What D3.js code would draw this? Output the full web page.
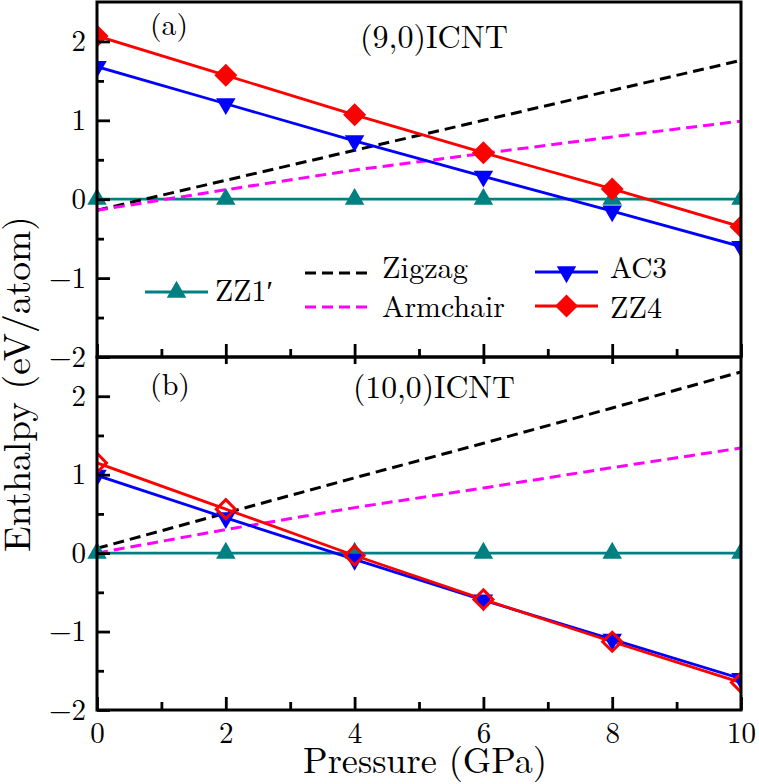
<!DOCTYPE html>
<html>
<head>
<meta charset="utf-8">
<script src="https://cdn.jsdelivr.net/npm/d3@7"></script>
<style>
  html, body { margin: 0; padding: 0; background: #fff; }
  svg { display: block; }
</style>
</head>
<body>
<div id="chart"></div>
<script>
// ---------------- data ----------------
const pressure = [0, 2, 4, 6, 8, 10];
const xTicks = [0, 2, 4, 6, 8, 10];
const xMinorTicks = [1, 3, 5, 7, 9];
const yTicks = [-2, -1, 0, 1, 2];
const yMinorTicks = [-1.5, -0.5, 0.5, 1.5];

// panel (a): (9,0)ICNT
const zz1A      = [0, 0, 0, 0, 0, 0];
const zigzagA   = [-0.14, 0.24, 0.62, 1.00, 1.38, 1.76];
const armchairA = [-0.14, 0.12, 0.37, 0.58, 0.79, 0.99];
const ac3A      = [1.68, 1.21, 0.74, 0.29, -0.15, -0.60];
const zz4A      = [2.07, 1.57, 1.07, 0.59, 0.13, -0.35];

// panel (b): (10,0)ICNT
const zz1B      = [0, 0, 0, 0, 0, 0];
const zigzagB   = [0.06, 0.51, 0.96, 1.40, 1.85, 2.31];
const armchairB = [0.00, 0.30, 0.58, 0.83, 1.09, 1.34];
const ac3B      = [0.99, 0.45, -0.08, -0.60, -1.10, -1.60];
const zz4B      = [1.15, 0.56, -0.03, -0.59, -1.13, -1.65];

const seriesNames = ["ZZ1\u2032", "Zigzag", "Armchair", "AC3", "ZZ4"];
const panelLabels = ["(a)", "(b)"];
const panelTitles = ["(9,0)ICNT", "(10,0)ICNT"];
const xTitle = "Pressure (GPa)";
const yTitle = "Enthalpy (eV/atom)";

// ---------------- layout ----------------
const W = 759, H = 784;
const left = 97, right = 741;
const FONT = "'Latin Modern Roman', 'Liberation Serif', serif";

const svg = d3.select("#chart").append("svg")
  .attr("width", W).attr("height", H);

// font size that makes a text span a given width
function fitSize(str, width) {
  const t = svg.append("text").style("font-family", FONT).style("font-size", "100px").text(str);
  const w = t.node().getComputedTextLength();
  t.remove();
  return 100 * width / w;
}
function styleText(sel, size) {
  sel.style("font-family", FONT).style("font-size", size + "px").style("font-weight", "normal").attr("fill", "#000");
  return sel;
}

const panels = [
  { top: 2, bottom: 357, label: panelLabels[0], title: panelTitles[0],
    data: [zz1A, zigzagA, armchairA, ac3A, zz4A], open: false,
    labelPos: [150, 35, 38], titlePos: [360, 48, 148] },
  { top: 357, bottom: 710, label: panelLabels[1], title: panelTitles[1],
    data: [zz1B, zigzagB, armchairB, ac3B, zz4B], open: true,
    labelPos: [150, 395, 40], titlePos: [353, 398, 162] }
];

const colors = ["#008080", "#000000", "#ff00ff", "#0000ff", "#ff0000"];
const dashes = [null, "11,6", "11,6", null, null];

const x = d3.scaleLinear().domain([0, 10]).range([left, right]);

function markerPath(kind, open) {
  if (kind === "up" || kind === "down") return d3.symbol(d3.symbolTriangle, 165)();
  const r = open ? 9.5 : 11.5;
  return `M0,${-r}L${r},0L0,${r}L${-r},0Z`;
}

panels.forEach((p, pi) => {
  const y = d3.scaleLinear().domain([-2, 2.5]).range([p.bottom, p.top]);
  const g = svg.append("g");

  const cid = "clip" + pi, cidT = "clipT" + pi;
  const defs = svg.append("defs");
  defs.append("clipPath").attr("id", cid).append("rect")
    .attr("x", left).attr("y", p.top).attr("width", right - left).attr("height", p.bottom - p.top);
  defs.append("clipPath").attr("id", cidT).append("rect")
    .attr("x", left - 20).attr("y", p.top).attr("width", right - left + 20).attr("height", p.bottom - p.top);

  const line = d3.line().x((d, i) => x(pressure[i])).y(d => y(d));
  p.data.forEach((vals, si) => {
    g.append("path")
      .attr("clip-path", `url(#${cid})`)
      .attr("d", line(vals))
      .attr("fill", "none")
      .attr("stroke", colors[si])
      .attr("stroke-width", dashes[si] ? 3 : 2.8)
      .attr("stroke-dasharray", dashes[si]);
  });

  const markerDefs = [
    { si: 0, kind: "up", clip: cidT },
    { si: 3, kind: "down", clip: cid },
    { si: 4, kind: "diamond", clip: cid }
  ];
  markerDefs.forEach(m => {
    const mg = g.append("g").attr("clip-path", `url(#${m.clip})`);
    const isOpen = m.kind === "diamond" && p.open;
    mg.selectAll("path").data(p.data[m.si]).join("path")
      .attr("transform", (d, i) => `translate(${x(pressure[i])},${y(d)})` + (m.kind === "down" ? " rotate(180)" : ""))
      .attr("d", markerPath(m.kind, p.open))
      .attr("fill", isOpen ? "none" : colors[m.si])
      .attr("stroke", isOpen ? colors[m.si] : "none")
      .attr("stroke-width", 3);
  });

  g.append("g").attr("transform", `translate(${left},0)`)
    .call(d3.axisLeft(y).tickValues(yTicks).tickSize(-13).tickPadding(11)
      .tickFormat(d => d < 0 ? "\u2212" + Math.abs(d) : String(d)));
  g.append("g").attr("transform", `translate(0,${p.bottom})`)
    .call(d3.axisBottom(x).tickValues(xTicks).tickSize(-13).tickPadding(12)
      .tickFormat(pi === 1 ? d3.format("d") : ""));
  g.append("g").attr("transform", `translate(${left},0)`)
    .call(d3.axisLeft(y).tickValues(yMinorTicks).tickSize(-7).tickFormat(""));
  g.append("g").attr("transform", `translate(0,${p.bottom})`)
    .call(d3.axisBottom(x).tickValues(xMinorTicks).tickSize(-8).tickFormat(""));
  if (pi === 1) {
    g.append("g").attr("transform", `translate(0,${p.top})`)
      .call(d3.axisTop(x).tickValues(xTicks.slice(1, -1)).tickSize(-7).tickFormat(""));
  }
  g.selectAll(".domain").remove();
  g.selectAll(".tick line").attr("stroke", "#000").attr("stroke-width", 2.8);
  styleText(g.selectAll(".tick text"), 29);

  g.append("rect")
    .attr("x", left).attr("y", p.top)
    .attr("width", right - left).attr("height", p.bottom - p.top)
    .attr("fill", "none").attr("stroke", "#000").attr("stroke-width", 3);

  styleText(g.append("text").attr("x", p.labelPos[0]).attr("y", p.labelPos[1]).text(p.label),
    fitSize(p.label, p.labelPos[2]));
  styleText(g.append("text").attr("x", p.titlePos[0]).attr("y", p.titlePos[1]).text(p.title),
    fitSize(p.title, p.titlePos[2]));
});

// ---------------- legend (in panel a) ----------------
const leg = svg.append("g");
const legendItems = [
  { si: 0, x1: 145, x2: 208, y: 292, mk: "up", tx: 215, ty: 301, tw: 58 },
  { si: 1, x1: 305, x2: 371, y: 273, mk: null, tx: 382, ty: 278, tw: 86 },
  { si: 2, x1: 305, x2: 371, y: 307, mk: null, tx: 382, ty: 317, tw: 123 },
  { si: 3, x1: 535, x2: 598, y: 272, mk: "down", tx: 610, ty: 278, tw: 57 },
  { si: 4, x1: 535, x2: 598, y: 306, mk: "diamond", tx: 610, ty: 318, tw: 52 }
];
legendItems.forEach(it => {
  leg.append("line").attr("x1", it.x1).attr("x2", it.x2).attr("y1", it.y).attr("y2", it.y)
    .attr("stroke", colors[it.si]).attr("stroke-width", dashes[it.si] ? 3 : 2.8)
    .attr("stroke-dasharray", dashes[it.si]);
  if (it.mk) {
    leg.append("path")
      .attr("transform", `translate(${(it.x1 + it.x2) / 2},${it.y})` + (it.mk === "down" ? " rotate(180)" : ""))
      .attr("d", markerPath(it.mk, false))
      .attr("fill", colors[it.si]);
  }
  styleText(leg.append("text").attr("x", it.tx).attr("y", it.ty).text(seriesNames[it.si]),
    fitSize(seriesNames[it.si], it.tw));
});

// ---------------- axis titles ----------------
styleText(svg.append("text").attr("x", 425).attr("y", 773)
  .attr("text-anchor", "middle").text(xTitle), fitSize(xTitle, 244));
styleText(svg.append("text").attr("transform", "translate(30,384) rotate(-90)")
  .attr("text-anchor", "middle").text(yTitle), fitSize(yTitle, 336));
</script>
</body>
</html>
